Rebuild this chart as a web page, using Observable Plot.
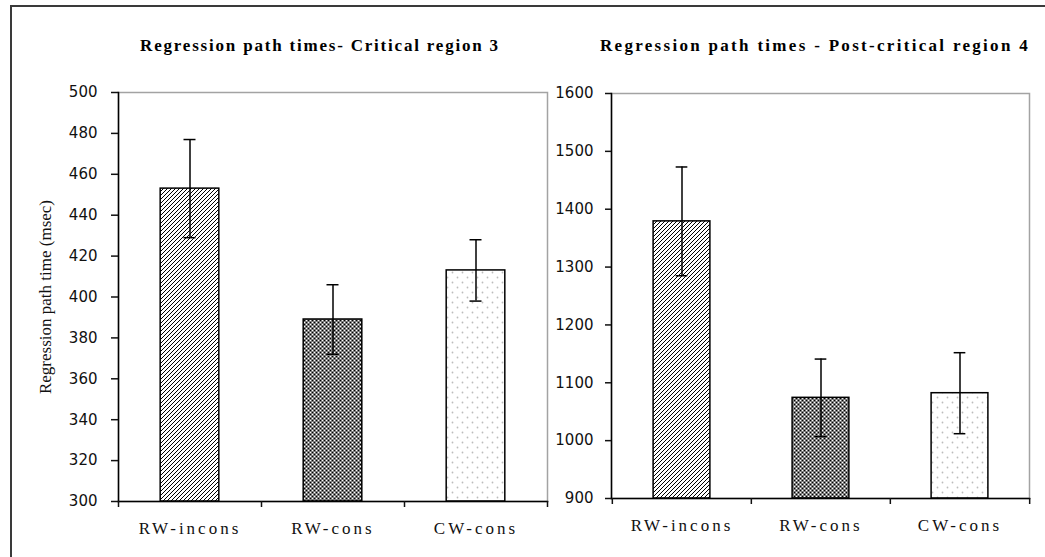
<!DOCTYPE html>
<html>
<head>
<meta charset="utf-8">
<script src="https://cdn.jsdelivr.net/npm/d3@7"></script>
<script src="https://cdn.jsdelivr.net/npm/@observablehq/plot@0.6"></script>
<style>
  html, body { margin: 0; padding: 0; background: #fff; }
  #figure { position: relative; width: 1045px; height: 557px; overflow: hidden; background: #fff; }
  #border { position: absolute; left: 10px; top: 5px; width: 2000px; height: 2000px;
            border-left: 2px solid #3a3a3a; border-top: 2px solid #3a3a3a; }
  .title { position: absolute; top: 36px; height: 22px; line-height: 22px; white-space: nowrap;
           font: bold 17px "Liberation Serif", "Times New Roman", serif; color: #000;
           transform: translateX(-50%); }
  .panel { position: absolute; top: 70px; }
  .panel svg [aria-label="x-axis tick label"] text { letter-spacing: 3px; }
  .panel svg [aria-label="y-axis label"] text { font: 17px "Liberation Serif", serif; }
</style>
</head>
<body>
<div id="figure">
  <svg width="0" height="0" style="position:absolute">
    <defs>
      <pattern id="hatch" width="4" height="4" patternUnits="userSpaceOnUse">
        <rect width="4" height="4" fill="#fff"/>
        <path d="M-1,1 l2,-2 M0,4 l4,-4 M3,5 l2,-2" stroke="#000" stroke-width="1"/>
      </pattern>
      <pattern id="cross" width="4" height="4" patternUnits="userSpaceOnUse">
        <rect width="4" height="4" fill="#7c7c7c"/>
        <rect x="0" y="0" width="1" height="1" fill="#000"/>
        <rect x="2" y="2" width="1" height="1" fill="#000"/>
        <rect x="2" y="0" width="1" height="1" fill="#fff"/>
        <rect x="0" y="2" width="1" height="1" fill="#fff"/>
      </pattern>
      <pattern id="dots" width="10" height="10" patternUnits="userSpaceOnUse">
        <rect width="10" height="10" fill="#fff"/>
        <circle cx="2.5" cy="2.5" r="0.9" fill="#bcbcbc"/>
        <circle cx="7.5" cy="7.5" r="0.9" fill="#bcbcbc"/>
      </pattern>
    </defs>
  </svg>
  <div id="border"></div>
  <div class="title" style="left:320px; letter-spacing:1.8px">Regression path times- Critical region 3</div>
  <div class="title" style="left:815px; letter-spacing:2.3px">Regression path times - Post-critical region 4</div>
  <div class="panel" id="left" style="left:10px"></div>
  <div class="panel" id="right" style="left:540px"></div>
</div>
<script>
// Reading conditions shared by both panels
const categories = ["RW-incons", "RW-cons", "CW-cons"];

// Critical region 3: mean regression path time and error (msec)
const region3Mean = [453, 389, 413];
const region3Error = [24, 17, 15];
const region3Ticks = [300, 320, 340, 360, 380, 400, 420, 440, 460, 480, 500];

// Post-critical region 4: mean regression path time and error (msec)
const region4Mean = [1379, 1074, 1082];
const region4Error = [94, 67, 70];
const region4Ticks = [900, 1000, 1100, 1200, 1300, 1400, 1500, 1600];

// Bar fills, one pattern per condition
const barFills = ["url(#hatch)", "url(#cross)", "url(#dots)"];

function panel({means, errors, ticks, yLabel, width, height, marginLeft, marginRight, marginTop, marginBottom,
                tickSize, tickPadding, labelOffset}) {
  const rows = categories.map((category, i) => ({category, mean: means[i], error: errors[i]}));
  const domain = [ticks[0], ticks[ticks.length - 1]];
  const bw = (width - marginLeft - marginRight) / categories.length;
  const barInset = bw * 0.295;
  const capInset = (bw - 12) / 2;
  return Plot.plot({
    width, height, marginLeft, marginRight, marginTop, marginBottom,
    style: {background: "transparent", overflow: "visible", fontFamily: "DejaVu Sans, Verdana, sans-serif", color: "#111"},
    x: {domain: categories, padding: 0, label: null},
    y: {domain, label: null},
    color: {domain: categories, range: barFills},
    marks: [
      Plot.frame({stroke: "#a3a3a3", strokeWidth: 1.5}),
      Plot.barY(rows, {x: "category", y1: domain[0], y2: "mean", fill: "category",
                       stroke: "#000", strokeWidth: 1.5, insetLeft: barInset, insetRight: barInset}),
      Plot.ruleX(rows, {x: "category", y1: d => d.mean - d.error, y2: d => d.mean + d.error,
                        stroke: "#000", strokeWidth: 1.5}),
      Plot.tickY(rows, {x: "category", y: d => d.mean + d.error, stroke: "#000", strokeWidth: 1.5,
                        insetLeft: capInset, insetRight: capInset}),
      Plot.tickY(rows, {x: "category", y: d => d.mean - d.error, stroke: "#000", strokeWidth: 1.5,
                        insetLeft: capInset, insetRight: capInset}),
      Plot.frame({anchor: "left", stroke: "#000", strokeWidth: 1.5}),
      Plot.frame({anchor: "bottom", stroke: "#000", strokeWidth: 1.5}),
      Plot.axisY({ticks, tickSize, tickPadding, tickFormat: d3.format("d"), fontSize: 15, strokeWidth: 1.5,
                  label: yLabel, labelAnchor: "center", labelArrow: "none", labelOffset}),
      // tick marks sit on the boundaries between categories
      Plot.axisX({tickSize: 6, tickFormat: () => "", dx: -bw / 2, strokeWidth: 1.5}),
      Plot.axisX({ticks: categories.slice(-1), tickSize: 6, tickFormat: () => "", dx: bw / 2, strokeWidth: 1.5}),
      Plot.axisX({tickSize: 0, tickPadding: 20, fontSize: 17, fontFamily: "Liberation Serif, Times New Roman, serif"})
    ]
  });
}

document.getElementById("left").append(panel({
  means: region3Mean, errors: region3Error, ticks: region3Ticks,
  yLabel: "Regression path time (msec)",
  width: 545, height: 470, marginLeft: 108, marginRight: 8, marginTop: 22, marginBottom: 39,
  tickSize: 7, tickPadding: 14, labelOffset: 80
}));

document.getElementById("right").append(panel({
  means: region4Mean, errors: region4Error, ticks: region4Ticks,
  yLabel: null,
  width: 500, height: 470, marginLeft: 71, marginRight: 11, marginTop: 23, marginBottom: 42,
  tickSize: 6, tickPadding: 12, labelOffset: 0
}));
</script>
</body>
</html>
